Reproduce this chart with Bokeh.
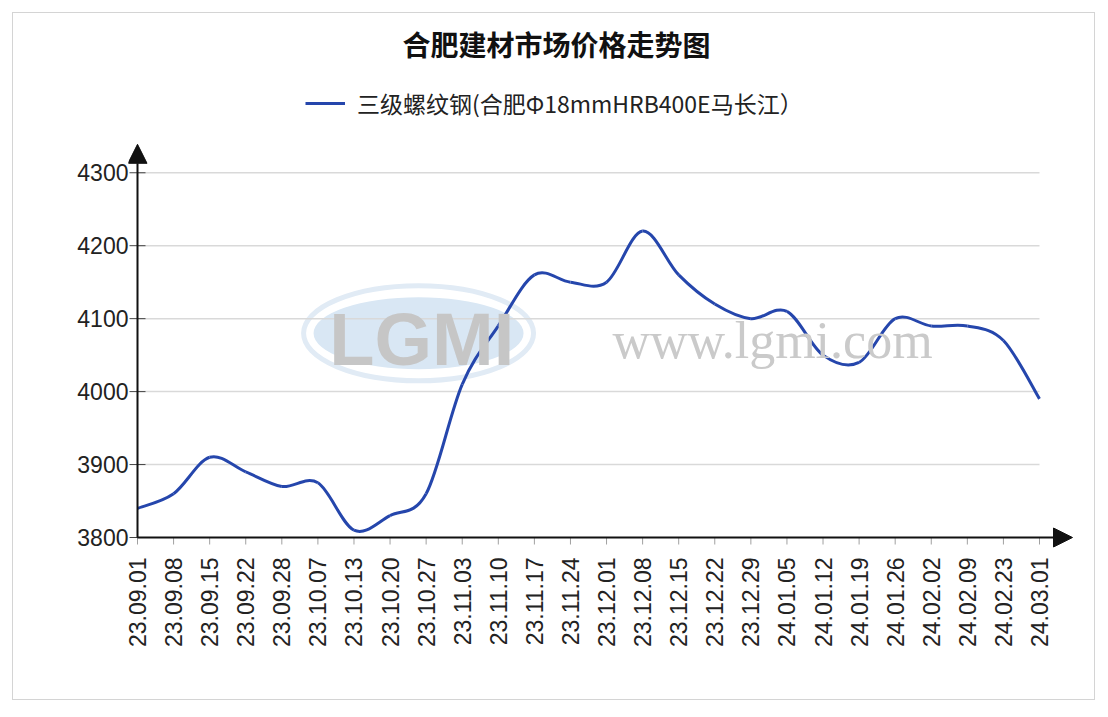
import math
from bokeh.plotting import figure
from bokeh.models import (Range1d, FixedTicker, Arrow, NormalHead, Label,
                          Legend, LegendItem, ColumnDataSource)
from bokeh.embed import file_html
from bokeh.resources import INLINE

# ---------------- data ----------------
title_text = "合肥建材市场价格走势图"
series_name = "三级螺纹钢(合肥Φ18mmHRB400E马长江）"
dates = ["23.09.01", "23.09.08", "23.09.15", "23.09.22", "23.09.28", "23.10.07",
         "23.10.13", "23.10.20", "23.10.27", "23.11.03", "23.11.10", "23.11.17",
         "23.11.24", "23.12.01", "23.12.08", "23.12.15", "23.12.22", "23.12.29",
         "24.01.05", "24.01.12", "24.01.19", "24.01.26", "24.02.02", "24.02.09",
         "24.02.23", "24.03.01"]
prices = [3840, 3860, 3910, 3890, 3870, 3875,
          3810, 3830, 3860, 4010, 4090, 4160,
          4150, 4150, 4220, 4160, 4120, 4100,
          4110, 4050, 4040, 4100, 4090, 4090,
          4070, 3990]
y_ticks = [3800, 3900, 4000, 4100, 4200, 4300]
watermark_logo = "LGMI"
watermark_url = "www.lgmi.com"

LINE_COLOR = "#2546AC"
FONT = "Liberation Sans"
CJK = "Noto Sans CJK SC"

x_idx = list(range(len(dates)))
n = len(prices)

# smooth rendering of the polyline: Catmull-Rom segments drawn as cubic Beziers
seg = dict(x0=[], y0=[], x1=[], y1=[], cx0=[], cy0=[], cx1=[], cy1=[])
for i in range(n - 1):
    a = i - 1 if i > 0 else i
    b = i + 2 if i + 2 < n else i + 1
    seg["x0"].append(x_idx[i])
    seg["y0"].append(prices[i])
    seg["x1"].append(x_idx[i + 1])
    seg["y1"].append(prices[i + 1])
    seg["cx0"].append(x_idx[i] + (x_idx[i + 1] - x_idx[a]) / 6)
    seg["cy0"].append(prices[i] + (prices[i + 1] - prices[a]) / 6)
    seg["cx1"].append(x_idx[i + 1] - (x_idx[b] - x_idx[i]) / 6)
    seg["cy1"].append(prices[i + 1] - (prices[b] - prices[i]) / 6)
src = ColumnDataSource(seg)

# scale: pixels per unit
PXX = 36.08
PXY = 0.7295
FRAME_W, FRAME_H = 966, 536
X0 = -9 / PXX                      # small room left of the y axis
Y0 = y_ticks[0] - 12 / PXY         # small room below the x axis
X_END = X0 + FRAME_W / PXX
Y_END = Y0 + FRAME_H / PXY
X_ARROW = 25.915
Y_ARROW = 4339.0
AX_Y = y_ticks[0]

p = figure(frame_width=FRAME_W, frame_height=FRAME_H,
           min_border_left=115, min_border_right=0,
           min_border_top=0, min_border_bottom=150,
           x_range=Range1d(X0, X_END), y_range=Range1d(Y0, Y_END),
           output_backend="svg", toolbar_location=None,
           background_fill_color="white", border_fill_color="white")
p.outline_line_color = None
p.xgrid.visible = False
p.ygrid.visible = False
p.styles = {"margin-left": "12px", "margin-top": "12px",
            "border": "1px solid #d4d4d4"}

# watermark
p.ellipse(x=7.79, y=4080, width=230, height=95, width_units="screen",
          height_units="screen", fill_color=None, line_color="#e1ebf5",
          line_width=5)
p.ellipse(x=7.79, y=4080, width=210, height=72, width_units="screen",
          height_units="screen", fill_color="#d9e7f4", line_color=None)
p.add_layout(Label(x=7.88, y=4072, text=watermark_logo, text_align="center",
                   text_baseline="middle", text_font=FONT,
                   text_font_style="bold", text_font_size="74px",
                   text_color="#c6c6c6"))
p.add_layout(Label(x=17.6, y=4070, text=watermark_url, text_align="center",
                   text_baseline="middle", text_font="Liberation Serif",
                   text_font_size="52px", text_color="#cacaca"))

# grid lines (stop at last category)
p.segment(x0=[x_idx[0]] * (len(y_ticks) - 1), y0=y_ticks[1:],
          x1=[x_idx[-1]] * (len(y_ticks) - 1), y1=y_ticks[1:],
          line_color="#d9d9d9", line_width=1.5)

# tick marks
p.segment(x0=x_idx, y0=[AX_Y] * n, x1=x_idx, y1=[AX_Y - 7 / PXY] * n,
          line_color="#a0a0a0", line_width=1)
p.scatter(x=[0] * len(y_ticks), y=y_ticks, marker="dash", size=16,
          line_color="#444444", line_width=1)

r = p.bezier(x0="x0", y0="y0", x1="x1", y1="y1", cx0="cx0", cy0="cy0",
             cx1="cx1", cy1="cy1", source=src, line_color=LINE_COLOR,
             line_width=3)

# axes (labels only, lines and ticks drawn above)
p.xaxis.ticker = FixedTicker(ticks=x_idx, minor_ticks=[])
p.xaxis.major_label_overrides = {i: d for i, d in enumerate(dates)}
p.xaxis.major_label_orientation = math.pi / 2
p.xaxis.axis_line_color = None
p.xaxis.major_tick_line_color = None
p.xaxis.major_tick_out = 0
p.xaxis.major_tick_in = 0
p.xaxis.major_label_standoff = 8
p.xaxis.major_label_text_font = FONT
p.xaxis.major_label_text_font_size = "23px"
p.xaxis.major_label_text_color = "#222222"

p.yaxis.ticker = FixedTicker(ticks=y_ticks, minor_ticks=[])
p.yaxis.axis_line_color = None
p.yaxis.major_tick_line_color = None
p.yaxis.major_tick_out = 0
p.yaxis.major_tick_in = 0
p.yaxis.major_label_standoff = 0
p.yaxis.major_label_text_font = FONT
p.yaxis.major_label_text_font_size = "23px"
p.yaxis.major_label_text_color = "#222222"

p.add_layout(Arrow(end=NormalHead(size=19, fill_color="#111111", line_color="#111111"),
                   x_start=0, y_start=AX_Y, x_end=0, y_end=Y_ARROW,
                   line_color="#111111", line_width=2))
p.add_layout(Arrow(end=NormalHead(size=19, fill_color="#111111", line_color="#111111"),
                   x_start=0, y_start=AX_Y, x_end=X_ARROW, y_end=AX_Y,
                   line_color="#111111", line_width=2))

# title
p.add_layout(Label(x=11.61, y=4476, text=title_text, text_align="center",
                   text_baseline="middle", text_font=CJK,
                   text_font_style="bold", text_font_size="28px",
                   text_color="#111111"))

# legend
legend = Legend(items=[LegendItem(label=series_name, renderers=[r])],
                location=(177, 429), orientation="horizontal",
                glyph_width=40, glyph_height=26, label_height=26,
                label_standoff=12, padding=0, margin=0,
                border_line_color=None, background_fill_alpha=0,
                label_text_font=CJK, label_text_font_size="23px",
                label_text_color="#222222")
p.add_layout(legend)

open("out.html", "w").write(file_html(p, INLINE))
